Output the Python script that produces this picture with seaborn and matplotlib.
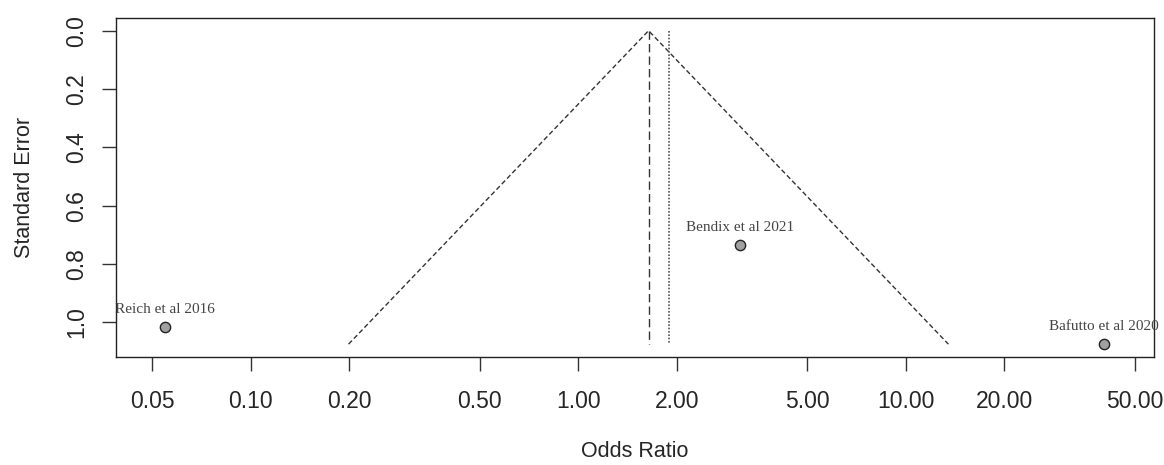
import matplotlib
matplotlib.use("Agg")
import matplotlib.pyplot as plt
import numpy as np
import pandas as pd
import seaborn as sns

# --- data ---
studies = ["Reich et al 2016", "Bendix et al 2021", "Bafutto et al 2020"]
odds_ratio = [0.0548, 3.13, 40.2]
std_error = [1.015, 0.735, 1.075]

estimate = 1.64        # pooled estimate (dashed line)
alt_estimate = 1.90    # second reference (dotted line)
max_se = 1.075

funnel_or = [0.199, 1.64, 13.5]
funnel_se = [1.075, 0.0, 1.075]

x_ticks = [0.05, 0.10, 0.20, 0.50, 1.00, 2.00, 5.00, 10.00, 20.00, 50.00]
y_ticks = [0.0, 0.2, 0.4, 0.6, 0.8, 1.0]

sns.set_style("white")
plt.rcParams["font.family"] = ["Liberation Sans", "DejaVu Sans"]

fig = plt.figure(figsize=(11.64, 4.65), dpi=100)
ax = fig.add_axes([0.0997, 0.2323, 0.8917, 0.729])

df = pd.DataFrame({"study": studies, "or": odds_ratio, "se": std_error})
funnel = pd.DataFrame({"or": funnel_or, "se": funnel_se})

# funnel outline
sns.lineplot(data=funnel, x="or", y="se", sort=False, ax=ax, color="#333333",
             linewidth=1.0, linestyle=(0, (3.5, 2)), estimator=None)
ax.plot([estimate, estimate], [0, max_se], color="#333333", linewidth=1.0,
        linestyle=(0, (6, 3)))
ax.plot([alt_estimate, alt_estimate], [0, max_se], color="#555555", linewidth=1.2,
        linestyle=(0, (1, 1)))

sns.scatterplot(data=df, x="or", y="se", ax=ax, s=55, color="#a0a0a0",
                edgecolor="#222222", linewidth=1.0, zorder=5)

for s, x, y in zip(studies, odds_ratio, std_error):
    ax.annotate(s, (x, y), xytext=(0, 8), textcoords="offset points",
                ha="center", va="bottom", fontsize=11, color="#444444",
                family=["Liberation Serif", "DejaVu Serif"])

ax.set_xscale("log")
ax.set_xlim(0.0388, 57.3)
ax.set_ylim(1.119, -0.0435)
ax.set_xticks(x_ticks)
ax.set_xticklabels([f"{t:.2f}" for t in x_ticks])
ax.xaxis.set_minor_locator(matplotlib.ticker.NullLocator())
ax.set_yticks(y_ticks)
ax.set_yticklabels([f"{t:.1f}" for t in y_ticks], rotation=90, va="center")

ax.tick_params(axis="both", direction="out", length=10, width=1.0, color="#333333",
               labelsize=16.5, pad=10, bottom=True, left=True)
ax.tick_params(axis="x", pad=14)
for sp in ax.spines.values():
    sp.set_color("#222222")
    sp.set_linewidth(1.0)

ax.set_xlabel("Odds Ratio", fontsize=15.5, labelpad=20)
ax.set_ylabel("Standard Error", fontsize=15.5, labelpad=22)

fig.savefig("out.png", dpi=100)
